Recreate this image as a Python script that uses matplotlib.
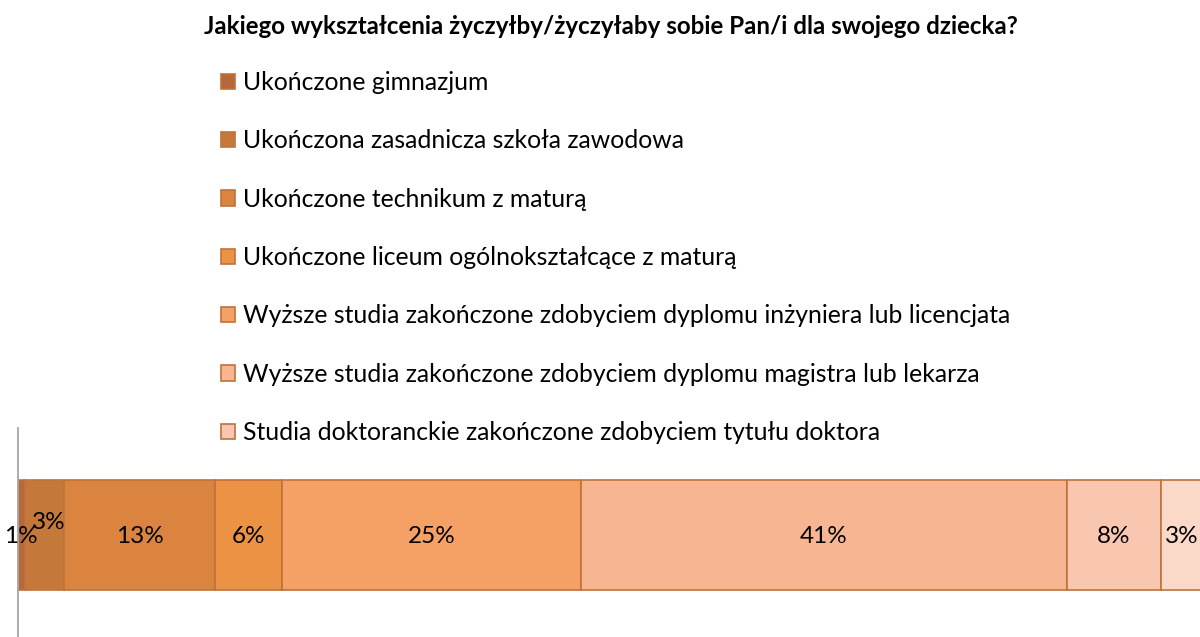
import matplotlib
matplotlib.use('Agg')
import matplotlib.pyplot as plt

plt.rcParams['font.family'] = ['Lato', 'DejaVu Sans']

# dane
title = 'Jakiego wykształcenia życzyłby/życzyłaby sobie Pan/i dla swojego dziecka?'
categories = [
    'Ukończone gimnazjum',
    'Ukończona zasadnicza szkoła zawodowa',
    'Ukończone technikum z maturą',
    'Ukończone liceum ogólnokształcące z maturą',
    'Wyższe studia zakończone zdobyciem dyplomu inżyniera lub licencjata',
    'Wyższe studia zakończone zdobyciem dyplomu magistra lub lekarza',
    'Studia doktoranckie zakończone zdobyciem tytułu doktora',
    'Inne',
]
values = [0.6, 3.3, 12.8, 5.6, 25.3, 41.0, 8.0, 3.4]
colors = ['#B5693A', '#C4783A', '#DA843F', '#EC9245',
          '#F5A064', '#F7B591', '#F9C7AF', '#FBD9C9']
n_legend = 7  # ostatnia pozycja nie mieści się w legendzie

fig = plt.figure(figsize=(12, 6.37), dpi=100)
ax = fig.add_axes([17.5 / 1200, 0, 1184 / 1200, 209 / 637])

left = 0
bars = []
for i, (cat, val, col) in enumerate(zip(categories, values, colors)):
    b = ax.barh(0, val, left=left, height=1, color=col,
                edgecolor='#C0723A', linewidth=1.2, label=cat)
    bars.append(b)
    # etykieta drugiego segmentu przesunięta, żeby nie nachodziła na 1%
    off = (3, 9) if i == 1 else (0, -1.5)
    ax.annotate(f'{round(val):.0f}%', (left + val / 2, 0), xytext=off,
                textcoords='offset points', ha='center', va='center',
                fontsize=17.5, color='black')
    left += val

ax.set_xlim(0, 100)
ax.set_ylim(-0.93, 0.97)
for s in ['top', 'right', 'bottom']:
    ax.spines[s].set_visible(False)
ax.spines['left'].set_color('#A6A6A6')
ax.spines['left'].set_linewidth(1.3)
ax.set_xticks([])
ax.set_yticks([])

fig.text(0.509, 1 - 27 / 637, title, ha='center', va='center',
         fontsize=17.4, fontweight='bold')

fig.legend(handles=bars[:n_legend], labels=categories[:n_legend],
           loc='upper left', bbox_to_anchor=(221 / 1200, 1 - 71 / 637),
           frameon=False, fontsize=17.8, handlelength=0.58, handleheight=0.58,
           handletextpad=0.3, labelspacing=1.43, borderpad=0, borderaxespad=0)

fig.savefig('out.png', dpi=100)
